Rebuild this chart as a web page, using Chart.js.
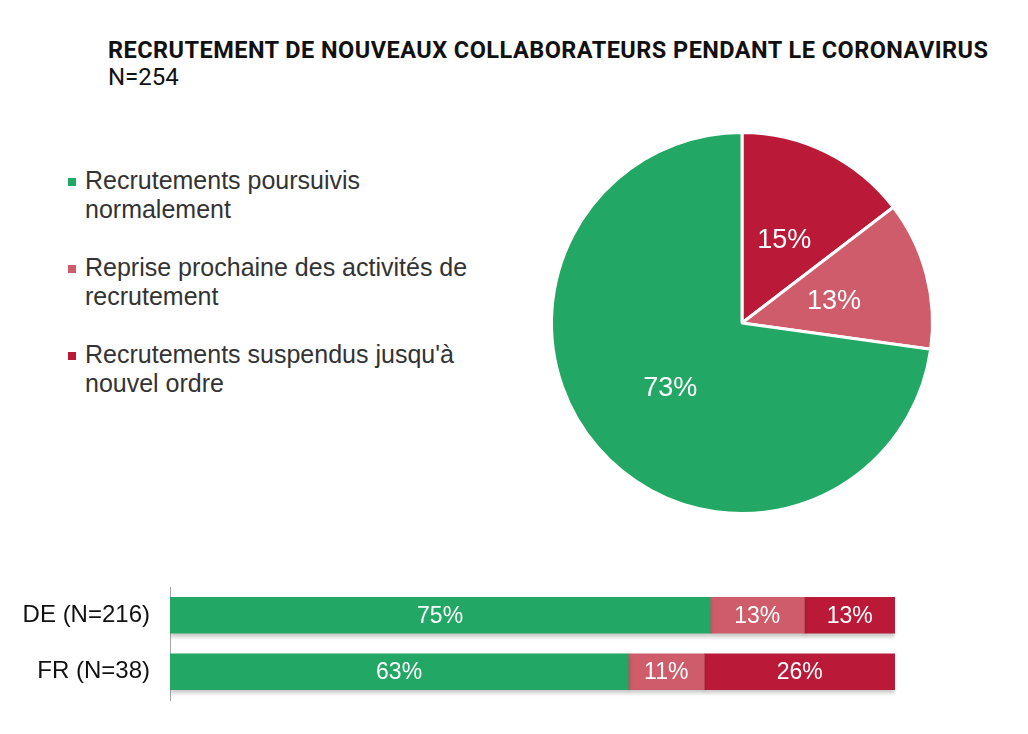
<!DOCTYPE html>
<html>
<head>
<meta charset="utf-8">
<script src="https://cdn.jsdelivr.net/npm/chart.js@4/dist/chart.umd.min.js"></script>
<style>
  body { margin: 0; background: #fff; width: 1028px; height: 734px; position: relative; overflow: hidden; }
  .title { position: absolute; left: 108px; top: 36px; font-family: Roboto, "Liberation Sans", sans-serif; color: #111; }
  .title .main { font-weight: bold; font-size: 22px; line-height: 28px; white-space: nowrap; display: inline-block; }
  .title .sub { font-size: 24px; line-height: 26px; }
  .legend { position: absolute; left: 66px; top: 166px; font-family: "Liberation Sans", Arial, sans-serif; font-size: 25px; line-height: 29px; color: #333; }
  .legend .item { position: relative; padding-left: 19px; margin-bottom: 29px; white-space: nowrap; }
  .legend .sw { position: absolute; left: 2px; top: 12px; width: 8px; height: 8px; }
  #pie { position: absolute; left: 540px; top: 121px; }
  #bars { position: absolute; left: 0; top: 567px; }
</style>
</head>
<body>
<div class="title">
  <div class="main" id="mainTitle">RECRUTEMENT DE NOUVEAUX COLLABORATEURS PENDANT LE CORONAVIRUS</div>
  <div class="sub">N=254</div>
</div>
<div class="legend" id="legend"></div>
<canvas id="pie" width="404" height="404"></canvas>
<canvas id="bars" width="910" height="153"></canvas>
<script>
const categories = ["Recrutements poursuivis normalement", "Reprise prochaine des activités de recrutement", "Recrutements suspendus jusqu'à nouvel ordre"];
const legendLines = [["Recrutements poursuivis", "normalement"], ["Reprise prochaine des activités de", "recrutement"], ["Recrutements suspendus jusqu'à", "nouvel ordre"]];
const colors = ["#22a764", "#ce5c6a", "#ba1a38"];

// total N=254
const pieValues = [72.8, 12.6, 14.6];

const countries = ["DE (N=216)", "FR (N=38)"];
const normalValues = [74.5, 63.2];
const resumeValues = [13.0, 10.5];
const suspendValues = [12.5, 26.3];

// fit the title to the width it has in the original (880px)
const mainTitle = document.getElementById("mainTitle");
let tw = mainTitle.getBoundingClientRect().width;
const fs = Math.min(23.5, 22 * 880 / tw);
mainTitle.style.fontSize = fs + "px";
tw = mainTitle.getBoundingClientRect().width;
mainTitle.style.letterSpacing = ((880 - tw) / (mainTitle.textContent.length - 1)).toFixed(3) + "px";

const legend = document.getElementById("legend");
legendLines.forEach((lines, i) => {
  const div = document.createElement("div");
  div.className = "item";
  div.innerHTML = '<span class="sw" style="background:' + colors[i] + '"></span>' + lines.join("<br>");
  legend.appendChild(div);
});

const labelPlugin = {
  id: "valueLabels",
  afterDatasetsDraw(chart, args, opts) {
    const ctx = chart.ctx;
    ctx.save();
    ctx.fillStyle = "#fff";
    ctx.font = opts.font;
    ctx.textAlign = "center";
    ctx.textBaseline = "middle";
    chart.data.datasets.forEach((ds, di) => {
      chart.getDatasetMeta(di).data.forEach((el, i) => {
        let p;
        if (chart.config.type === "bar") {
          const { x, y, base } = el.getProps(["x", "y", "base"]);
          p = { x: (x + base) / 2, y };
        } else {
          p = el.tooltipPosition();
        }
        ctx.fillText(Math.round(ds.data[i]) + "%", p.x, p.y + (opts.dy || 0));
      });
    });
    ctx.restore();
  }
};

const shadowPlugin = {
  id: "barShadow",
  beforeDatasetsDraw(chart) {
    const ctx = chart.ctx;
    ctx.save();
    ctx.shadowColor = "rgba(0,0,0,0.22)";
    ctx.shadowBlur = 4;
    ctx.shadowOffsetY = 3;
  },
  afterDatasetsDraw(chart) {
    chart.ctx.restore();
  }
};

// pie runs clockwise from the top: suspended, resumed soon, normal
const pieOrder = [2, 1, 0];
new Chart(document.getElementById("pie"), {
  type: "pie",
  data: {
    labels: pieOrder.map((i) => categories[i]),
    datasets: [{
      data: pieOrder.map((i) => pieValues[i]),
      backgroundColor: pieOrder.map((i) => colors[i]),
      borderColor: "#fff",
      borderWidth: 3
    }]
  },
  options: {
    responsive: false,
    animation: false,
    layout: { padding: 10 },
    plugins: {
      legend: { display: false },
      tooltip: { enabled: false },
      valueLabels: { font: "27px 'Liberation Sans', Arial, sans-serif", dy: 3 }
    }
  },
  plugins: [labelPlugin]
});

const barSeries = [normalValues, resumeValues, suspendValues];
new Chart(document.getElementById("bars"), {
  type: "bar",
  data: {
    labels: countries,
    datasets: barSeries.map((vals, i) => ({
      label: categories[i],
      data: vals,
      backgroundColor: colors[i],
      borderWidth: 0,
      barThickness: 36
    }))
  },
  options: {
    indexAxis: "y",
    responsive: false,
    animation: false,
    layout: { padding: { top: 20, bottom: 20, right: 15 } },
    scales: {
      x: { stacked: true, min: 0, max: 100, display: false },
      y: {
        stacked: true,
        grid: { display: false, drawTicks: true, tickLength: 20 },
        border: { display: true, color: "#a6a6a6", width: 1 },
        ticks: { color: "#111", padding: 0, font: { family: "'Liberation Sans', Arial, sans-serif", size: 24 } },
        afterFit(scale) { scale.width = 170; }
      }
    },
    plugins: {
      legend: { display: false },
      tooltip: { enabled: false },
      valueLabels: { font: "23px 'Liberation Sans', Arial, sans-serif", dy: 1 }
    }
  },
  plugins: [shadowPlugin, labelPlugin]
});
</script>
</body>
</html>
